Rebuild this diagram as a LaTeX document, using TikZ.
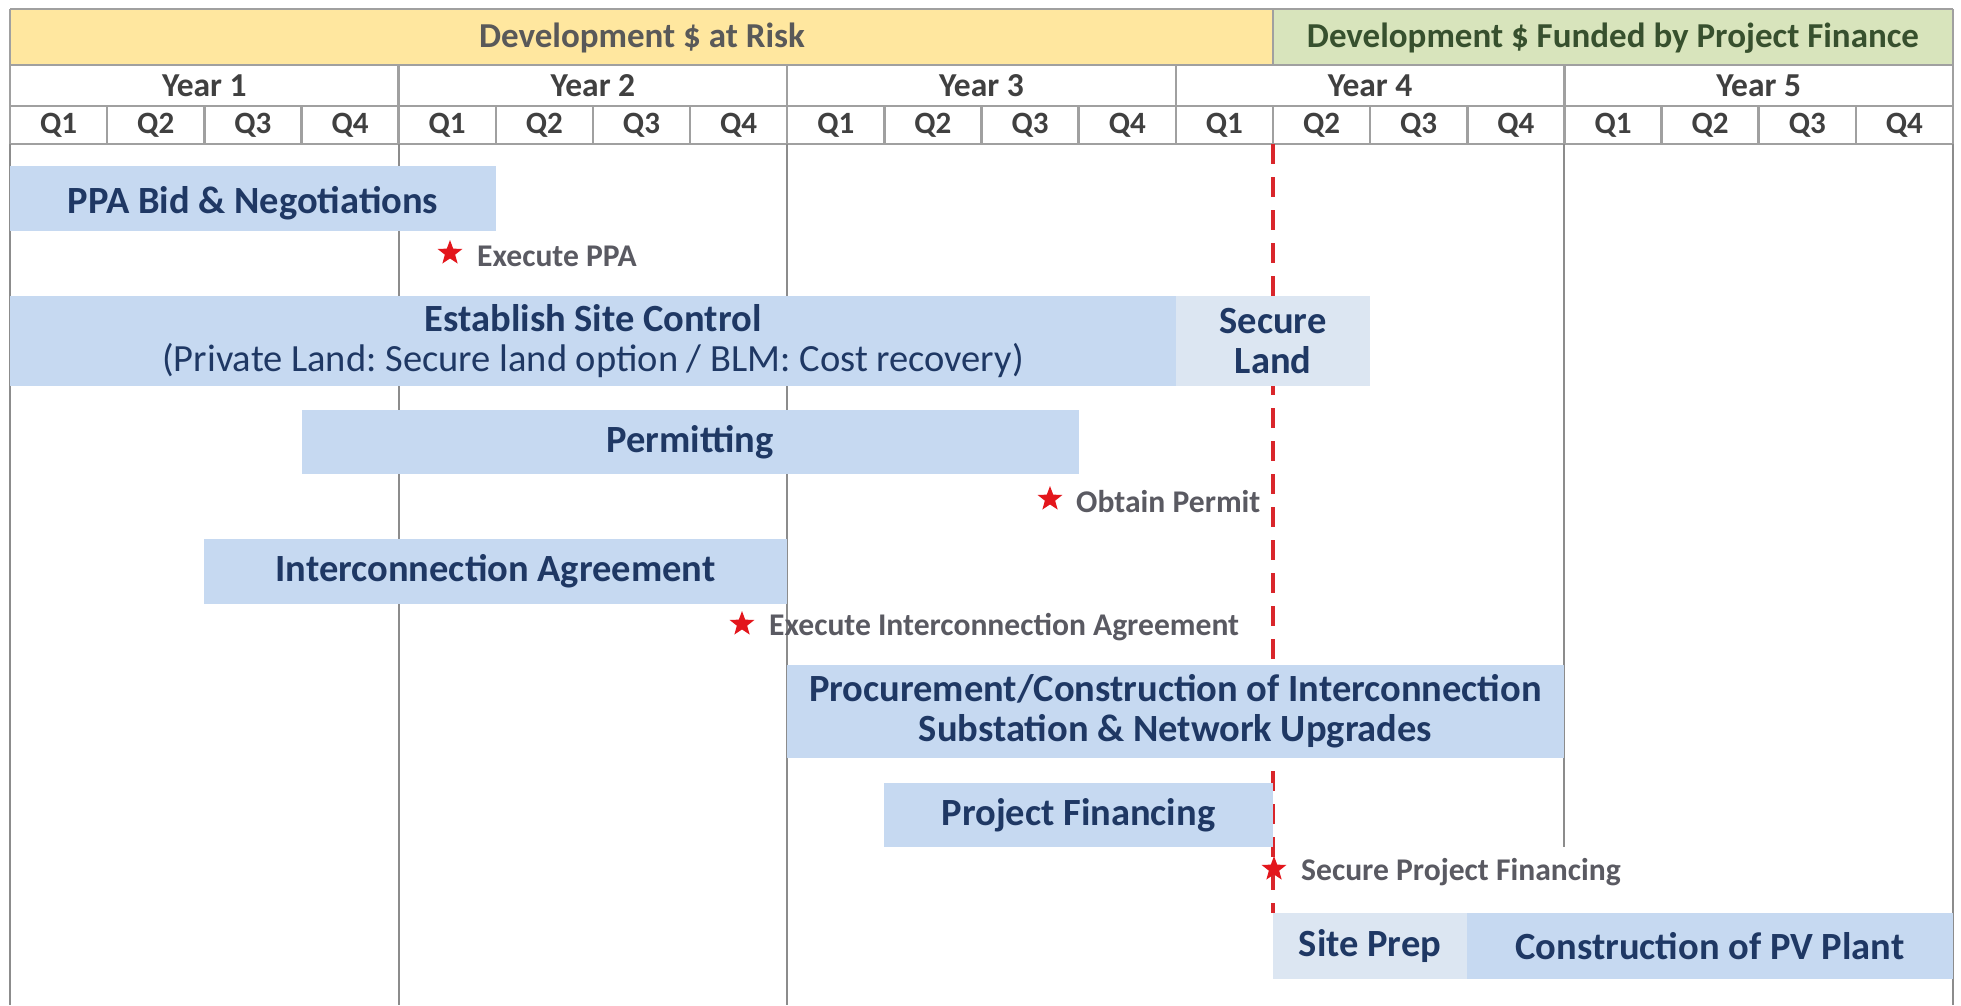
\documentclass[tikz,border=0pt]{standalone}
\usepackage{fontspec}
\setmainfont{Carlito}
\usetikzlibrary{shapes.geometric}
\frenchspacing
\definecolor{barblue}{HTML}{C6D9F1}
\definecolor{barlight}{HTML}{DCE6F2}
\definecolor{navy}{HTML}{1F3864}
\definecolor{bannery}{HTML}{FFE79F}
\definecolor{bannerg}{HTML}{D8E4BC}
\definecolor{greentxt}{HTML}{37502E}
\definecolor{graytxt}{HTML}{595959}
\definecolor{milegray}{HTML}{5A5A62}
\definecolor{hdrtxt}{HTML}{404040}
\definecolor{gridc}{HTML}{8C8C8C}
\definecolor{hdrline}{HTML}{A0A0A0}
\definecolor{starred}{HTML}{E3161C}
\definecolor{dashred}{HTML}{D9262B}
\tikzset{
  barbox/.style={fill=barblue, draw=none, inner sep=0pt, text=navy, align=center,
    font=\fontsize{38.5}{40}\selectfont\bfseries},
  lightbox/.style={barbox, fill=barlight},
  hdrlab/.style={inner sep=0pt, text=hdrtxt, font=\fontsize{31}{34}\selectfont\bfseries},
  yearlab/.style={hdrlab, font=\fontsize{33.5}{36}\selectfont\bfseries},
  bannerlab/.style={inner sep=0pt, font=\fontsize{35}{38}\selectfont\bfseries},
  milestar/.style={star, star points=5, star point ratio=2.4, fill=starred, draw=none,
    minimum size=26pt, inner sep=0pt},
  miletext/.style={anchor=west, inner sep=0pt, text=milegray,
    font=\fontsize{31.6}{34}\selectfont\bfseries},
  gridline/.style={draw=gridc, line width=2pt},
  hline/.style={draw=hdrline, line width=2.5pt},
  deadline/.style={draw=dashred, line width=4pt, dash pattern=on 20pt off 13pt}
}
\begin{document}
\begin{tikzpicture}[x=1pt,y=-1pt]
\useasboundingbox (0,0) rectangle (1961,1005);
\fill[white] (0,0) rectangle (1961,1005);
% banner
\fill[bannery] (10,9) rectangle (1273,65);
\fill[bannerg] (1273,9) rectangle (1953,65);
\node[bannerlab, text=graytxt] (risk) at (642,38) {Development \$ at Risk};
\node[bannerlab, text=greentxt] (funded) at (1613,38) {Development \$ Funded by Project Finance};
% header lines
\draw[hline] (10,9) -- (1953,9);
\draw[hline] (10,65) -- (1953,65);
\draw[hline] (10,106) -- (1953,106);
\draw[hline] (10,144) -- (1953,144);
\draw[hline] (10,9) -- (10,144);
\draw[hline] (1953,9) -- (1953,144);
\draw[hline] (1273,9) -- (1273,65);
\foreach \k in {1,2,3,4} {
  \pgfmathsetmacro\yx{10+388.6*\k}
  \draw[hline] (\yx,65) -- (\yx,106);
}
\foreach \i in {1,...,19} {
  \pgfmathsetmacro\qx{10+97.15*\i}
  \draw[hline] (\qx,106) -- (\qx,144);
}
% year and quarter labels
\foreach \k in {1,...,5} {
  \pgfmathsetmacro\yc{10+388.6*(\k-0.5)}
  \node[yearlab] (year\k) at (\yc,86) {Year \k};
}
\foreach \i in {0,...,19} {
  \pgfmathsetmacro\qc{10+97.15*(\i+0.5)}
  \pgfmathtruncatemacro\qn{mod(\i,4)+1}
  \node[hdrlab] (q\i) at (\qc,125.5) {Q\qn};
}
% body grid lines
\draw[gridline] (10,144) -- (10,1005);
\draw[gridline] (398.6,144) -- (398.6,1005);
\draw[gridline] (787.2,144) -- (787.2,1005);
\draw[gridline] (1564,144) -- (1564,847);
\draw[gridline] (1953,144) -- (1953,1005);
% deadline
\draw[deadline] (1273,144) -- (1273,913);
% bars
\node[barbox, minimum width=486pt, minimum height=65pt, text depth=0pt] (ppa) at (253,198.5) {\raisebox{-3pt}{PPA Bid \& Negotiations}};
\node[barbox, minimum width=1166pt, minimum height=90pt] (site) at (593,341) {Establish Site Control\\\fontseries{m}\selectfont(Private Land: Secure land option / BLM: Cost recovery)};
\node[lightbox, minimum width=194pt, minimum height=90pt] (land) at (1273,341) {Secure\\Land};
\node[barbox, minimum width=777pt, minimum height=64pt] (permit) at (690,442) {\raisebox{-3pt}{Permitting}};
\node[barbox, minimum width=583pt, minimum height=65pt] (ia) at (495.6,571.5) {\raisebox{-3pt}{Interconnection Agreement}};
\node[barbox, minimum width=777pt, minimum height=93pt] (proc) at (1175.5,711.5) {Procurement/Construction of Interconnection\\Substation \& Network Upgrades};
\node[barbox, minimum width=389pt, minimum height=64pt] (pf) at (1078.5,815) {\raisebox{-3pt}{Project Financing}};
\node[lightbox, minimum width=194pt, minimum height=66pt] (prep) at (1370,946) {\raisebox{-3pt}{Site Prep}};
\node[barbox, minimum width=486pt, minimum height=66pt] (pv) at (1710,946) {\raisebox{-3pt}{Construction of PV Plant}};
% milestones
\node[milestar] (s1) at (450,253) {};
\node[miletext] (m1) at ([xshift=27pt,yshift=-3pt]s1.center) {Execute PPA};
\node[milestar] (s2) at (1050,499) {};
\node[miletext] (m2) at ([xshift=26pt,yshift=-3pt]s2.center) {Obtain Permit};
\node[milestar] (s3) at (742,624) {};
\node[miletext] (m3) at ([xshift=27pt,yshift=-3pt]s3.center) {Execute Interconnection Agreement};
\node[milestar] (s4) at (1274,869) {};
\node[miletext] (m4) at ([xshift=27pt,yshift=-3pt]s4.center) {Secure Project Financing};
\end{tikzpicture}
\end{document}
